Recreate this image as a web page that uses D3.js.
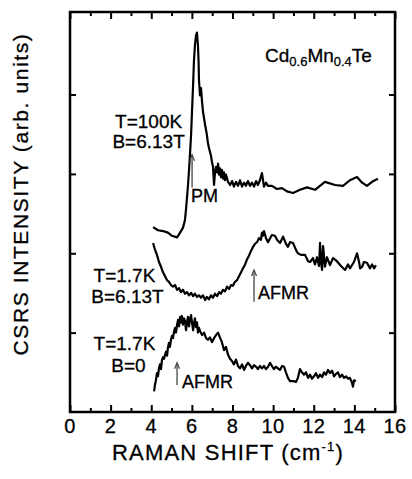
<!DOCTYPE html>
<html><head><meta charset="utf-8">
<script src="https://cdn.jsdelivr.net/npm/d3@7"></script>
<style>
html,body{margin:0;padding:0;background:#fff;}
text{font-family:"Liberation Sans",Arial,Helvetica,sans-serif;fill:#000;stroke:#000;stroke-width:0.3px;}
</style></head>
<body><svg id="c" width="412" height="479"></svg>
<script>
// Data (x: Raman shift cm^-1, y: intensity arb. units, offset curves)
const xTicks = [0,2,4,6,8,10,12,14,16];
const xMinor = [1,3,5,7,9,11,13,15];
const yTicks = [1,2,3,4];

const curvePM = [[4.09,2.33],[4.33,2.29],[4.58,2.28],[4.82,2.26],[5.02,2.22],[5.27,2.20],[5.42,2.26],[5.56,2.32],[5.66,2.42],[5.71,2.55],[5.76,2.70],[5.81,2.86],[5.86,3.05],[5.91,3.26],[5.96,3.49],[6.01,3.81],[6.06,4.12],[6.10,4.41],[6.15,4.62],[6.20,4.74],[6.25,4.78],[6.30,4.62],[6.33,4.41],[6.35,4.18],[6.40,3.99],[6.45,4.08],[6.50,3.91],[6.55,3.78],[6.60,3.70],[6.65,3.62],[6.70,3.55],[6.74,3.49],[6.79,3.39],[6.84,3.33],[6.89,3.28],[6.94,3.23],[6.99,3.15],[7.04,3.09],[7.09,2.86],[7.14,3.02],[7.19,3.09],[7.24,3.02],[7.29,3.13],[7.34,2.99],[7.38,3.07],[7.43,2.96],[7.48,3.05],[7.53,2.94],[7.58,3.02],[7.63,2.92],[7.68,2.99],[7.78,2.90],[7.88,2.86],[7.98,2.91],[8.07,2.84],[8.17,2.90],[8.27,2.85],[8.37,2.92],[8.47,2.84],[8.57,2.89],[8.66,2.85],[8.76,2.91],[8.86,2.85],[8.96,2.89],[9.06,2.84],[9.16,2.91],[9.25,2.86],[9.35,2.92],[9.45,3.01],[9.55,2.84],[9.65,2.89],[9.75,2.85],[9.94,2.85],[10.19,2.81],[10.44,2.82],[10.68,2.78],[10.98,2.76],[11.32,2.80],[11.67,2.83],[12.06,2.80],[12.55,2.90],[13.05,2.86],[13.44,2.85],[13.78,2.92],[14.13,2.96],[14.38,2.89],[14.62,2.85],[14.87,2.90],[15.16,2.94]];

const curveAF = [[4.09,2.13],[4.18,2.05],[4.28,1.98],[4.38,1.89],[4.48,1.83],[4.58,1.76],[4.68,1.71],[4.78,1.66],[4.87,1.64],[4.97,1.60],[5.07,1.58],[5.17,1.60],[5.27,1.54],[5.37,1.56],[5.46,1.51],[5.56,1.54],[5.66,1.49],[5.76,1.51],[5.86,1.47],[5.96,1.50],[6.06,1.46],[6.15,1.49],[6.25,1.45],[6.35,1.47],[6.45,1.44],[6.55,1.47],[6.65,1.41],[6.74,1.45],[6.84,1.42],[6.94,1.47],[7.04,1.44],[7.14,1.49],[7.24,1.46],[7.34,1.51],[7.43,1.49],[7.53,1.54],[7.63,1.52],[7.73,1.58],[7.83,1.55],[7.93,1.60],[8.02,1.59],[8.12,1.64],[8.22,1.66],[8.32,1.71],[8.42,1.76],[8.52,1.81],[8.62,1.86],[8.71,1.92],[8.81,1.97],[8.91,2.03],[9.01,2.08],[9.11,2.12],[9.21,2.14],[9.30,2.19],[9.40,2.17],[9.45,2.26],[9.50,2.22],[9.55,2.28],[9.65,2.19],[9.75,2.14],[9.85,2.19],[9.94,2.23],[10.09,2.22],[10.19,2.17],[10.34,2.13],[10.49,2.21],[10.63,2.12],[10.73,2.08],[10.83,2.14],[10.98,2.13],[11.13,2.04],[11.22,2.00],[11.37,1.98],[11.57,1.98],[11.72,1.90],[11.82,1.89],[11.96,1.94],[12.06,1.86],[12.16,1.95],[12.26,1.84],[12.31,2.13],[12.36,1.89],[12.41,1.79],[12.46,2.09],[12.55,1.83],[12.65,1.95],[12.80,1.85],[12.95,1.94],[13.14,1.90],[13.34,1.84],[13.54,1.79],[13.69,1.86],[13.78,1.81],[13.98,1.89],[14.13,2.00],[14.23,1.89],[14.28,1.81],[14.38,1.83],[14.47,1.89],[14.62,1.88],[14.77,1.81],[14.87,1.86],[14.97,1.81],[15.06,1.85]];

const curveB0 = [[4.14,0.26],[4.18,0.34],[4.23,0.40],[4.28,0.49],[4.33,0.45],[4.38,0.55],[4.43,0.60],[4.48,0.54],[4.53,0.66],[4.58,0.69],[4.63,0.67],[4.68,0.72],[4.73,0.76],[4.78,0.71],[4.82,0.81],[4.87,0.87],[4.92,0.82],[4.97,0.91],[5.02,0.96],[5.07,0.93],[5.12,1.01],[5.17,1.06],[5.22,1.00],[5.27,1.10],[5.32,1.16],[5.37,1.08],[5.42,1.20],[5.46,1.13],[5.51,1.21],[5.56,1.10],[5.61,1.18],[5.66,1.15],[5.71,1.03],[5.76,1.13],[5.81,1.20],[5.86,1.08],[5.91,1.17],[5.96,1.22],[6.01,1.12],[6.06,1.03],[6.10,1.11],[6.15,1.18],[6.20,1.07],[6.25,1.13],[6.30,1.00],[6.35,1.06],[6.40,1.02],[6.50,0.97],[6.60,1.00],[6.70,0.93],[6.79,0.91],[6.89,0.94],[6.99,0.88],[7.09,0.93],[7.19,0.97],[7.29,1.00],[7.38,0.94],[7.48,0.88],[7.58,0.78],[7.68,0.82],[7.78,0.72],[7.88,0.67],[7.98,0.64],[8.07,0.60],[8.17,0.66],[8.27,0.58],[8.37,0.55],[8.47,0.60],[8.57,0.53],[8.66,0.58],[8.76,0.62],[8.86,0.59],[8.96,0.55],[9.06,0.59],[9.16,0.57],[9.25,0.54],[9.35,0.58],[9.45,0.55],[9.55,0.58],[9.65,0.54],[9.75,0.57],[9.85,0.62],[9.94,0.58],[10.04,0.54],[10.14,0.57],[10.24,0.55],[10.34,0.53],[10.44,0.58],[10.54,0.57],[10.63,0.50],[10.73,0.43],[10.83,0.39],[10.98,0.39],[11.13,0.38],[11.22,0.43],[11.32,0.54],[11.42,0.50],[11.52,0.47],[11.62,0.50],[11.72,0.43],[11.82,0.47],[11.91,0.42],[12.01,0.45],[12.11,0.49],[12.21,0.43],[12.31,0.47],[12.41,0.44],[12.50,0.50],[12.60,0.47],[12.70,0.53],[12.80,0.49],[12.90,0.52],[13.00,0.45],[13.10,0.48],[13.19,0.50],[13.29,0.44],[13.39,0.47],[13.49,0.43],[13.59,0.45],[13.69,0.42],[13.78,0.43],[13.88,0.37],[13.93,0.32],[13.98,0.40],[14.08,0.39]];

// arrows: [x, yFrom, yTo]
const arrowData = [[6.01,2.83,3.24],[9.06,1.39,1.79],[5.27,0.34,0.62]];
// condition labels: [text, x, y]
const condLabels = [["T=100K",3.87,3.58],["B=6.13T",3.87,3.33],["T=1.7K",2.68,1.64],["B=6.13T",2.83,1.37],["T=1.7K",2.68,0.78],["B=0",2.88,0.50]];
const peakLabels = [["PM",5.96,2.65],["AFMR",9.25,1.42],["AFMR",5.51,0.30]];

const svg = d3.select("#c");
const L=70,R=395,T=12,B=412;
const x = d3.scaleLinear().domain([0,16]).range([L,R]);
const y = d3.scaleLinear().domain([0,5.04]).range([B,T]);

// axes with inward ticks
const gB = svg.append("g").attr("transform",`translate(0,${B})`);
gB.call(d3.axisTop(x).tickValues(xTicks).tickSize(7).tickFormat(""));
gB.append("g").call(d3.axisTop(x).tickValues(xMinor).tickSize(4).tickFormat(""));
const gT = svg.append("g").attr("transform",`translate(0,${T})`);
gT.call(d3.axisBottom(x).tickValues(xTicks).tickSize(7).tickFormat(""));
gT.append("g").call(d3.axisBottom(x).tickValues(xMinor).tickSize(4).tickFormat(""));
const gL = svg.append("g").attr("transform",`translate(${L},0)`);
gL.call(d3.axisRight(y).tickValues(yTicks).tickSize(6).tickFormat(""));
const gR = svg.append("g").attr("transform",`translate(${R},0)`);
gR.call(d3.axisLeft(y).tickValues(yTicks).tickSize(6).tickFormat(""));
svg.selectAll(".domain").remove();
svg.selectAll(".tick line").attr("stroke","#000").attr("stroke-width",2);

// tick labels
svg.append("g").selectAll("text").data(xTicks).join("text")
  .attr("x",d=>x(d)).attr("y",433).attr("text-anchor","middle")
  .attr("font-size",20).style("letter-spacing","0.5px").text(d=>d);

svg.append("rect").attr("x",L).attr("y",T).attr("width",R-L).attr("height",B-T)
  .attr("fill","none").attr("stroke","#000").attr("stroke-width",2.5);

// curves
const line = d3.line().x(d=>x(d[0])).y(d=>y(d[1]));
[curvePM,curveAF,curveB0].forEach(c=>{
  svg.append("path").datum(c).attr("d",line).attr("fill","none")
    .attr("stroke","#000").attr("stroke-width",2.2).attr("stroke-linejoin","round");
});

// arrows
arrowData.forEach(a=>{
  const xx=x(a[0]), y0=y(a[1]), y1=y(a[2]);
  svg.append("line").attr("x1",xx).attr("x2",xx).attr("y1",y0).attr("y2",y1)
    .attr("stroke","#444").attr("stroke-width",1.3);
  svg.append("path").attr("d",`M${xx-2.5},${y1+6}L${xx},${y1}L${xx+2.5},${y1+6}`)
    .attr("fill","none").attr("stroke","#444").attr("stroke-width",1.2);
});

svg.append("g").selectAll("text").data(condLabels).join("text")
  .attr("x",d=>x(d[1])).attr("y",d=>y(d[2])).attr("text-anchor","middle")
  .attr("font-size",19).text(d=>d[0]);
svg.append("g").selectAll("text").data(peakLabels).join("text")
  .attr("x",d=>x(d[1])).attr("y",d=>y(d[2]))
  .attr("font-size",18).text(d=>d[0]);

// compound title
const tt = svg.append("text").attr("x",x(9.6)).attr("y",y(4.41)).attr("font-size",19);
tt.append("tspan").text("Cd");
tt.append("tspan").attr("font-size",13).attr("dy",4).text("0.6");
tt.append("tspan").attr("dy",-4).text("Mn");
tt.append("tspan").attr("font-size",13).attr("dy",4).text("0.4");
tt.append("tspan").attr("dy",-4).text("Te");

// axis titles
const xt = svg.append("text").attr("x",228).attr("y",460).attr("text-anchor","middle")
  .attr("font-size",22).style("letter-spacing","1.2px");
xt.append("tspan").text("RAMAN SHIFT (cm");
xt.append("tspan").attr("font-size",13).attr("dy",-9).text("-1");
xt.append("tspan").attr("dy",9).text(")");

svg.append("text").attr("transform","translate(28,194) rotate(-90)")
  .attr("text-anchor","middle").attr("font-size",21).style("letter-spacing","1.6px")
  .text("CSRS INTENSITY (arb. units)");
</script></body></html>
